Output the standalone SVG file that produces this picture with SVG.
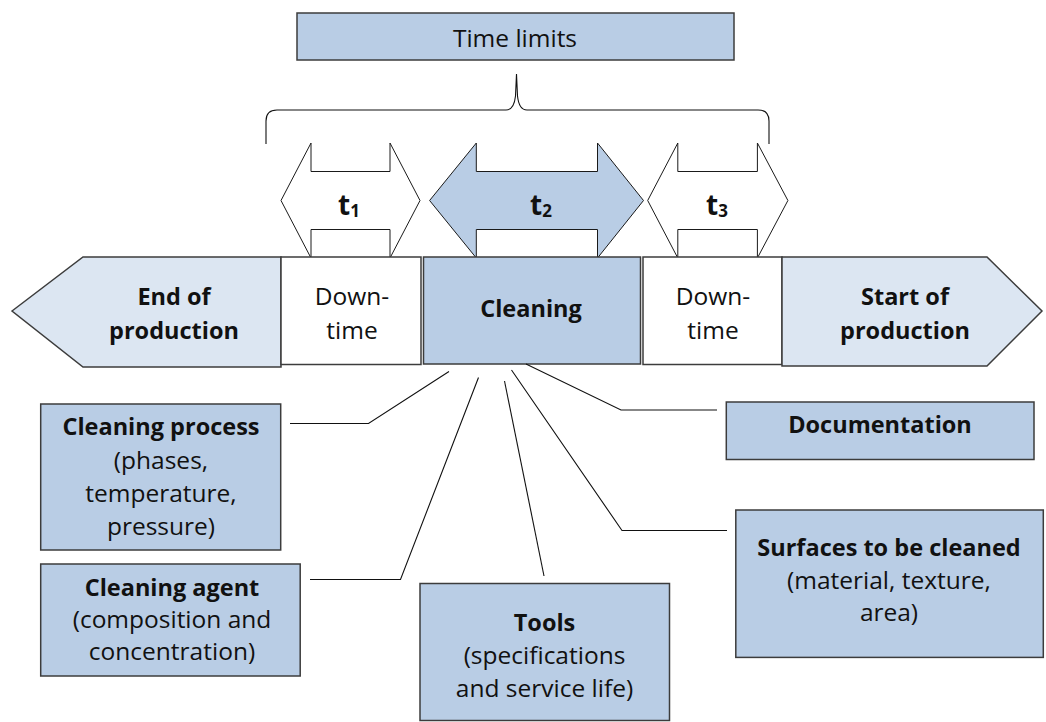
<svg xmlns="http://www.w3.org/2000/svg" width="1046" height="722" viewBox="0 0 1046 722">
<style>
.box{stroke:#3c3c3c;stroke-width:1.5}
.mid{fill:#b9cde5}
.light{fill:#dce6f2}
.white{fill:#ffffff}
.arr{stroke:#1a1a1a;stroke-width:1}
.ln{fill:none;stroke:#111;stroke-width:1.1}
text{font-family:"Open Sans","Liberation Sans",sans-serif;fill:#111;text-anchor:middle}
.b{font-weight:bold;font-size:23.5px}
.r{font-size:24.5px}
.t{font-weight:bold;font-size:28px}
.s{font-size:17px}
</style>
<rect width="1046" height="722" fill="#ffffff"/>
<g id="time-limits">
<rect class="box mid" x="297" y="13" width="437" height="47"/>
<text class="r" x="515" y="47">Time limits</text>
</g>
<g id="brace">
<path class="ln" d="M266,144 V121 Q266,110 277,110 H506 Q514,110 515.5,96 L516.5,74 L517.5,96 Q519,110 527,110 H758 Q769,110 769,121 V144"/>
</g>
<g id="t1">
<polygon class="arr white" points="281,200.5 311,143 311,171.5 390,171.5 390,143 420,200.5 390,258 390,229.5 311,229.5 311,258"/>
<text class="t" x="349" y="215">t<tspan class="s" dy="2">1</tspan></text>
</g>
<g id="t2">
<polygon class="arr mid" points="429.6,200.5 476.3,143 476.3,171.5 597.5,171.5 597.5,143 643.5,200.5 597.5,258 597.5,229.5 476.3,229.5 476.3,258"/>
<text class="t" x="541" y="215">t<tspan class="s" dy="2">2</tspan></text>
</g>
<g id="t3">
<polygon class="arr white" points="647.7,200.5 677.8,143 677.8,171.5 757.4,171.5 757.4,143 787.9,200.5 757.4,258 757.4,229.5 677.8,229.5 677.8,258"/>
<text class="t" x="717" y="215">t<tspan class="s" dy="2">3</tspan></text>
</g>
<g id="end-of-production">
<polygon class="box light" points="12,311 83,257 281,257 281,367 83,367"/>
<text class="b" x="174" y="305">End of</text>
<text class="b" x="174" y="339">production</text>
</g>
<g id="downtime-1">
<rect class="box white" x="281" y="257" width="140" height="107.5"/>
<text class="r" x="352" y="305">Down-</text>
<text class="r" x="352" y="339">time</text>
</g>
<g id="cleaning">
<rect class="box mid" x="423.5" y="257" width="217" height="107"/>
<text class="b" x="531" y="317">Cleaning</text>
</g>
<g id="downtime-2">
<rect class="box white" x="643" y="257" width="139" height="107.5"/>
<text class="r" x="713" y="305">Down-</text>
<text class="r" x="713" y="339">time</text>
</g>
<g id="start-of-production">
<polygon class="box light" points="782,257 987,257 1042,311 987,366 782,366"/>
<text class="b" x="905" y="305">Start of</text>
<text class="b" x="905" y="339">production</text>
</g>
<g id="connectors">
<polyline class="ln" points="290,423.5 368.5,423.5 449,371.5"/>
<polyline class="ln" points="310,579.5 400.5,579.5 478.5,377.5"/>
<polyline class="ln" points="504.5,381 544,576"/>
<polyline class="ln" points="511.5,370 622,530.5 727,530.5"/>
<polyline class="ln" points="526,364 621,410 717,410"/>
</g>
<g id="cleaning-process">
<rect class="box mid" x="40.7" y="404" width="240" height="146"/>
<text class="b" x="161" y="435">Cleaning process</text>
<text class="r" x="161" y="469">(phases,</text>
<text class="r" x="161" y="502">temperature,</text>
<text class="r" x="161" y="535">pressure)</text>
</g>
<g id="cleaning-agent">
<rect class="box mid" x="40.7" y="564" width="259.5" height="112"/>
<text class="b" x="172" y="596">Cleaning agent</text>
<text class="r" x="172" y="628">(composition and</text>
<text class="r" x="172" y="660">concentration)</text>
</g>
<g id="tools">
<rect class="box mid" x="420" y="583.5" width="249.5" height="137"/>
<text class="b" x="544.5" y="631">Tools</text>
<text class="r" x="544.5" y="664">(specifications</text>
<text class="r" x="544.5" y="697">and service life)</text>
</g>
<g id="documentation">
<rect class="box mid" x="726.3" y="402" width="307.7" height="57.5"/>
<text class="b" x="880" y="433">Documentation</text>
</g>
<g id="surfaces">
<rect class="box mid" x="735.8" y="510" width="307.5" height="147.4"/>
<text class="b" x="889" y="556">Surfaces to be cleaned</text>
<text class="r" x="889" y="589">(material, texture,</text>
<text class="r" x="889" y="621">area)</text>
</g>
</svg>
